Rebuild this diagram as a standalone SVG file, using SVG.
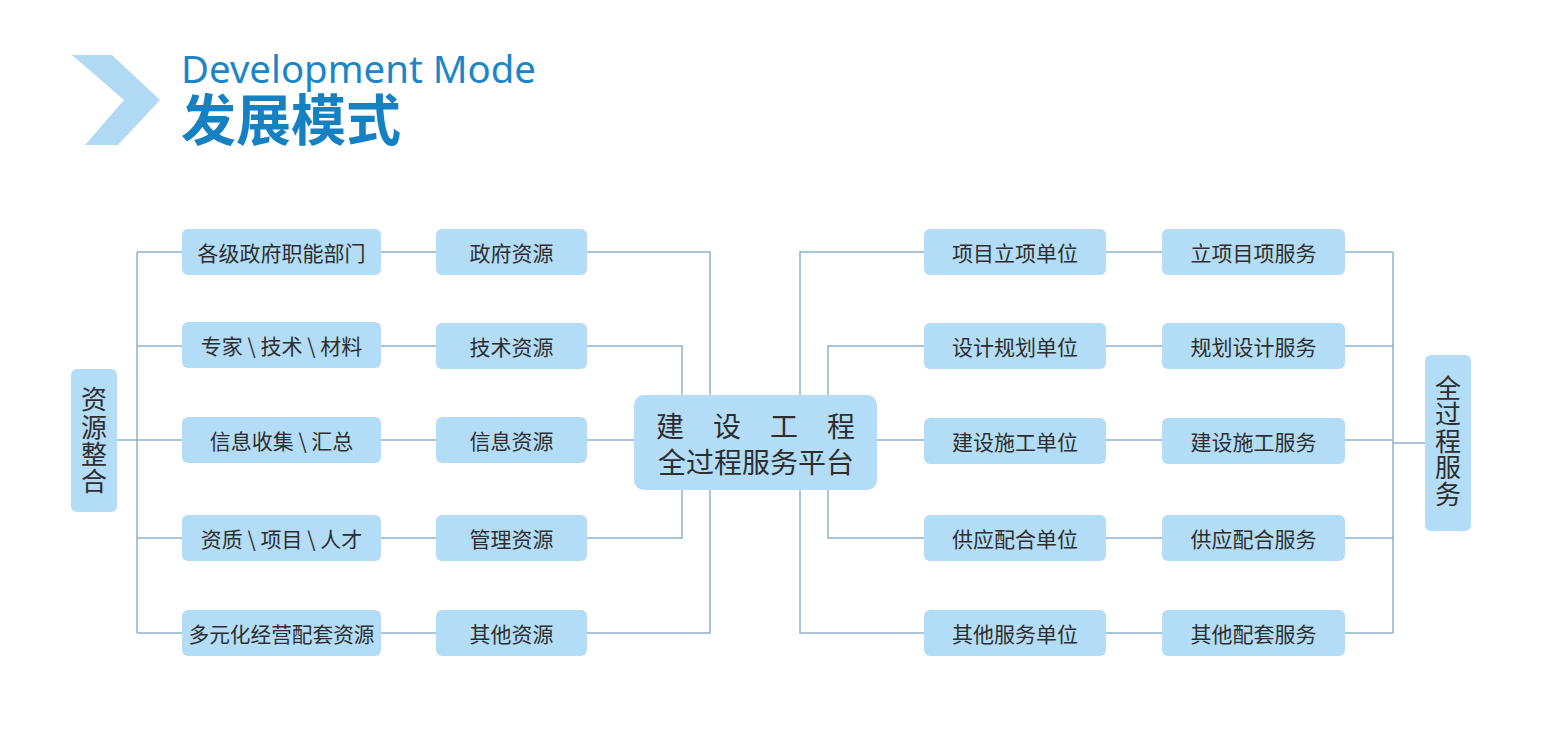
<svg xmlns="http://www.w3.org/2000/svg" width="1541" height="750" viewBox="0 0 1541 750">
<style>
.box{fill:#b3ddf6;}
.t{font-family:"Noto Sans CJK SC","Noto Sans",sans-serif;font-size:21px;fill:#2e2e2e;text-anchor:middle;dominant-baseline:central;}
.c{font-size:28px;}
.v{font-family:"Noto Sans CJK SC",sans-serif;font-size:26px;fill:#2e2e2e;text-anchor:middle;writing-mode:vertical-rl;}
.ln{fill:none;stroke:#8fb2ca;stroke-width:1.5;}
</style>
<rect width="1541" height="750" fill="#ffffff"/>
<g id="title">
<polygon points="72,55 112,55 160,100 118,145 85,145 124,100" fill="#b0daf4"/>
<text x="181" y="83" font-family="'Noto Sans','Open Sans',sans-serif" font-size="39" fill="#1a86c8" textLength="355" lengthAdjust="spacingAndGlyphs">Development Mode</text>
<text x="181" y="140" font-family="'Noto Sans CJK SC',sans-serif" font-size="55" font-weight="bold" fill="#1580c2">发展模式</text>
</g>
<g id="connectors" class="ln">
<path d="M117,440H137M137,252V633"/>
<path d="M137,252H182M137,346H182M137,440H182M137,538H182M137,633H182"/>
<path d="M381,252H436M381,346H436M381,440H436M381,538H436M381,633H436"/>
<path d="M587,252H710V395M587,633H710V490M587,346H682V395M587,538H682V490M587,440H634"/>
<path d="M800,395V252H924M800,490V633H924M828,395V346H924M828,490V538H924M877,440H924"/>
<path d="M1106,252H1162M1106,346H1162M1106,440H1162M1106,538H1162M1106,633H1162"/>
<path d="M1345,252H1393M1345,346H1393M1345,440H1393M1345,538H1393M1345,633H1393"/>
<path d="M1393,252V633M1393,443H1425"/>
</g>
<g id="left-bar"><rect class="box" x="71" y="369" width="46" height="143" rx="6"/>
<text class="v" x="94" y="441" letter-spacing="1.3">资源整合</text></g>
<g id="right-bar"><rect class="box" x="1425" y="355" width="46" height="176" rx="6"/>
<text class="v" x="1448" y="441" letter-spacing="0.5">全过程服务</text></g>
<g id="center"><rect class="box" x="634" y="395" width="243" height="95" rx="10"/>
<text class="t c"><tspan x="670" y="425">建</tspan><tspan x="727" y="425">设</tspan><tspan x="784" y="425">工</tspan><tspan x="841" y="425">程</tspan></text>
<text class="t c" x="756" y="461">全过程服务平台</text></g>
<g id="l1a"><rect class="box" x="182" y="229" width="199" height="46" rx="6"/><text class="t" x="281.5" y="252">各级政府职能部门</text></g>
<g id="l2a"><rect class="box" x="182" y="322" width="199" height="46" rx="6"/><text class="t" x="281.5" y="345">专家 \ 技术 \ 材料</text></g>
<g id="l3a"><rect class="box" x="182" y="417" width="199" height="46" rx="6"/><text class="t" x="281.5" y="440">信息收集 \ 汇总</text></g>
<g id="l4a"><rect class="box" x="182" y="515" width="199" height="46" rx="6"/><text class="t" x="281.5" y="538">资质 \ 项目 \ 人才</text></g>
<g id="l5a"><rect class="box" x="182" y="610" width="199" height="46" rx="6"/><text class="t" x="281.5" y="633" textLength="186" lengthAdjust="spacingAndGlyphs">多元化经营配套资源</text></g>
<g id="l1b"><rect class="box" x="436" y="229" width="151" height="46" rx="6"/><text class="t" x="511.5" y="252">政府资源</text></g>
<g id="l2b"><rect class="box" x="436" y="323" width="151" height="46" rx="6"/><text class="t" x="511.5" y="346">技术资源</text></g>
<g id="l3b"><rect class="box" x="436" y="417" width="151" height="46" rx="6"/><text class="t" x="511.5" y="440">信息资源</text></g>
<g id="l4b"><rect class="box" x="436" y="515" width="151" height="46" rx="6"/><text class="t" x="511.5" y="538">管理资源</text></g>
<g id="l5b"><rect class="box" x="436" y="610" width="151" height="46" rx="6"/><text class="t" x="511.5" y="633">其他资源</text></g>
<g id="r1a"><rect class="box" x="924" y="229" width="182" height="46" rx="6"/><text class="t" x="1015" y="252">项目立项单位</text></g>
<g id="r2a"><rect class="box" x="924" y="323" width="182" height="46" rx="6"/><text class="t" x="1015" y="346">设计规划单位</text></g>
<g id="r3a"><rect class="box" x="924" y="418" width="182" height="46" rx="6"/><text class="t" x="1015" y="441">建设施工单位</text></g>
<g id="r4a"><rect class="box" x="924" y="515" width="182" height="46" rx="6"/><text class="t" x="1015" y="538">供应配合单位</text></g>
<g id="r5a"><rect class="box" x="924" y="610" width="182" height="46" rx="6"/><text class="t" x="1015" y="633">其他服务单位</text></g>
<g id="r1b"><rect class="box" x="1162" y="229" width="183" height="46" rx="6"/><text class="t" x="1253.5" y="252">立项目项服务</text></g>
<g id="r2b"><rect class="box" x="1162" y="323" width="183" height="46" rx="6"/><text class="t" x="1253.5" y="346">规划设计服务</text></g>
<g id="r3b"><rect class="box" x="1162" y="418" width="183" height="46" rx="6"/><text class="t" x="1253.5" y="441">建设施工服务</text></g>
<g id="r4b"><rect class="box" x="1162" y="515" width="183" height="46" rx="6"/><text class="t" x="1253.5" y="538">供应配合服务</text></g>
<g id="r5b"><rect class="box" x="1162" y="610" width="183" height="46" rx="6"/><text class="t" x="1253.5" y="633">其他配套服务</text></g>
</svg>
